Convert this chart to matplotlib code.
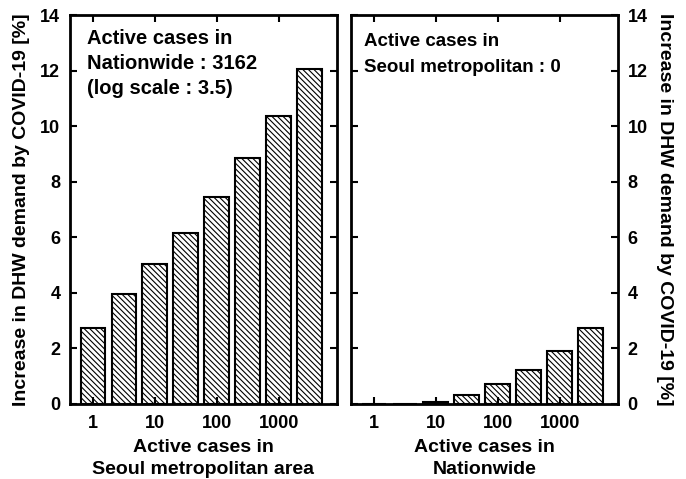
import matplotlib
matplotlib.use('Agg')
import matplotlib.pyplot as plt

plt.rcParams['font.family'] = ['Liberation Sans', 'DejaVu Sans']
plt.rcParams['font.weight'] = 'bold'
plt.rcParams['hatch.linewidth'] = 0.8

# log10 of active cases
log_cases = [0, 0.5, 1, 1.5, 2, 2.5, 3, 3.5]
seoul_increase = [2.75, 3.95, 5.03, 6.15, 7.45, 8.85, 10.35, 12.05]
nation_increase = [0, 0, 0.06, 0.32, 0.71, 1.22, 1.91, 2.75]
tick_pos = [0, 1, 2, 3]
tick_labels = ['1', '10', '100', '1000']

fig = plt.figure(figsize=(6.86, 4.79), dpi=100)
ax1 = fig.add_axes([70 / 686, 1 - 404 / 479, 267 / 686, 389 / 479])
ax2 = fig.add_axes([351 / 686, 1 - 404 / 479, 267 / 686, 389 / 479])

for ax, vals in [(ax1, seoul_increase), (ax2, nation_increase)]:
    ax.bar(log_cases, vals, width=0.4, color='white', edgecolor='black',
           linewidth=1.5, hatch='\\\\\\\\\\\\')
    ax.set_xlim(-0.37, 3.94)
    ax.set_ylim(0, 14)
    ax.set_xticks(tick_pos)
    ax.set_xticklabels(tick_labels, fontweight='bold')
    ax.set_yticks(range(0, 15, 2))
    ax.tick_params(direction='in', length=5, width=1.5, top=True, right=True,
                   labelsize=13)
    ax.tick_params(axis='x', pad=8)
    ax.tick_params(axis='y', pad=7)
    for lab in ax.get_yticklabels():
        lab.set_fontweight('bold')
    for s in ax.spines.values():
        s.set_linewidth(2)

ax1.set_xlabel('Active cases in\nSeoul metropolitan area', fontsize=14,
               fontweight='bold', labelpad=5, linespacing=1.35)
ax1.set_ylabel('Increase in DHW demand by COVID-19 [%]', fontsize=14,
               fontweight='bold', labelpad=7)
ax1.text(0.065, 0.965, 'Active cases in\nNationwide : 3162\n(log scale : 3.5)',
         transform=ax1.transAxes, va='top', ha='left', fontsize=14.5,
         fontweight='bold', linespacing=1.4)

ax2.tick_params(labelleft=False, labelright=True)
ax2.yaxis.set_label_position('right')
ax2.set_ylabel('Increase in DHW demand by COVID-19 [%]', fontsize=14,
               fontweight='bold', rotation=270, labelpad=18)
ax2.set_xlabel('Active cases in\nNationwide', fontsize=14,
               fontweight='bold', labelpad=5, linespacing=1.35)
ax2.text(0.05, 0.955, 'Active cases in\nSeoul metropolitan : 0',
         transform=ax2.transAxes, va='top', ha='left', fontsize=13.5,
         fontweight='bold', linespacing=1.75)

fig.savefig('out.png', dpi=100)
